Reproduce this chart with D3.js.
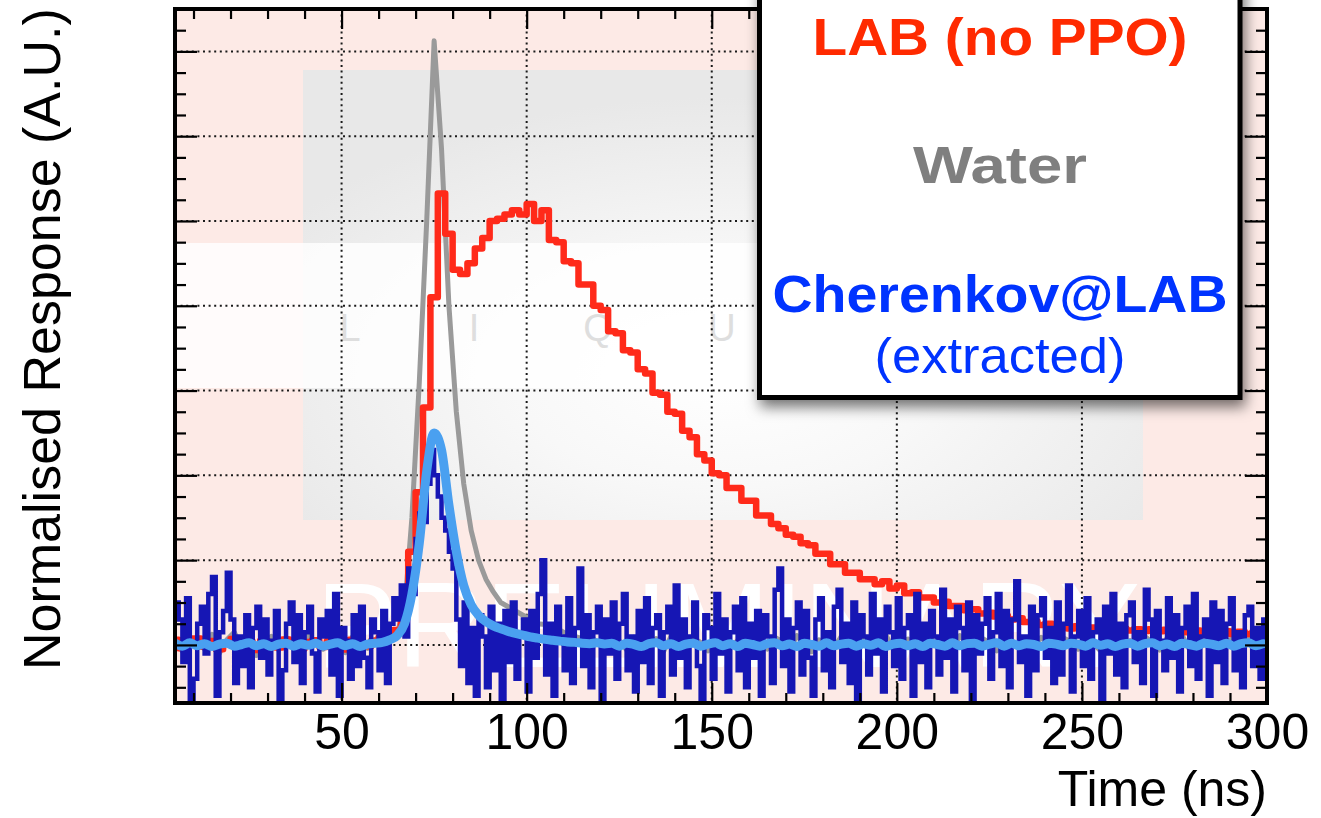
<!DOCTYPE html>
<html>
<head>
<meta charset="utf-8">
<script src="https://cdn.jsdelivr.net/npm/d3@7"></script>
<style>
  html, body { margin: 0; padding: 0; background: #fff; }
  svg { display: block; }
  text { font-family: "Liberation Sans", Arial, sans-serif; }
</style>
</head>
<body>
<svg id="chart" width="1321" height="818"></svg>
<script>
// histogram binning (ns)
const binStart = 4, binWidth = 2;       // LAB, water, smoothed Cherenkov
const rawBinStart = 5, rawBinWidth = 1; // raw Cherenkov

// LAB (no PPO) response, 2 ns bins starting at 4 ns
const labNoPPO = [
  0.012, -0.008, 0.005, 0.015, -0.004, 0.009, -0.010, 0.006, 0.014, -0.003,
  0.008, -0.012, 0.010, 0.003, -0.006, 0.013, 0.001, -0.009, 0.007, 0.011,
  -0.005, 0.009, 0.004, -0.011, 0.012, 0.006, -0.003, 0.010, 0.018, 0.022,
  0.035, 0.09, 0.22, 0.36, 0.56, 0.82, 1.065, 0.97, 0.885, 0.875,
  0.90, 0.935, 0.96, 1.0, 1.005, 1.015, 1.025, 1.015, 1.04, 1.0,
  1.025, 0.955, 0.95, 0.905, 0.90, 0.85, 0.85, 0.80, 0.79, 0.74,
  0.735, 0.695, 0.69, 0.65, 0.64, 0.595, 0.59, 0.55, 0.545, 0.505,
  0.49, 0.45, 0.435, 0.405, 0.40, 0.37, 0.37, 0.34, 0.34, 0.305,
  0.305, 0.285, 0.275, 0.26, 0.255, 0.24, 0.235, 0.215, 0.215, 0.19,
  0.19, 0.17, 0.17, 0.155, 0.155, 0.143, 0.15, 0.133, 0.14, 0.122,
  0.124, 0.112, 0.112, 0.10, 0.102, 0.092, 0.092, 0.082, 0.084, 0.074,
  0.076, 0.067, 0.069, 0.060, 0.063, 0.054, 0.056, 0.047, 0.050, 0.043,
  0.046, 0.039, 0.044, 0.037, 0.041, 0.035, 0.040, 0.034, 0.039, 0.034,
  0.037, 0.033, 0.037, 0.032, 0.036, 0.031, 0.035, 0.030, 0.034, 0.029,
  0.033, 0.027, 0.032, 0.026, 0.031, 0.026, 0.030, 0.025
];

// Water response
const water = [
  0.010, -0.015, 0.020, 0.005, -0.010, 0.025, -0.020, 0.012, 0.030, -0.005,
  0.015, -0.025, 0.010, 0.020, -0.012, 0.018, 0.004, -0.020, 0.022, 0.008,
  -0.010, 0.016, 0.010, -0.018, 0.020, 0.006, -0.008, 0.012, 0.020, 0.018,
  0.030, 0.08, 0.30, 0.62, 1.00, 1.425, 1.17, 0.80, 0.55, 0.38,
  0.27, 0.20, 0.155, 0.125, 0.10, 0.09, 0.08, 0.07, 0.06, 0.05,
  0.048, 0.04, 0.035, 0.025, 0.02, 0.015, 0.02, 0.008, 0.012, -0.005,
  0.010, -0.012, 0.018, 0.004, -0.008, 0.015, -0.015, 0.020, 0.002, -0.010,
  0.016, 0.006, -0.014, 0.012, 0.024, -0.006, 0.010, -0.018, 0.014, 0.004,
  -0.010, 0.018, 0.008, -0.012, 0.022, 0.002, -0.016, 0.012, 0.006, -0.008,
  0.020, -0.004, 0.012, 0.016, -0.014, 0.008, 0.024, -0.010, 0.004, 0.014,
  -0.012, 0.010, 0.018, -0.006, 0.012, -0.016, 0.022, 0.004, -0.010, 0.016,
  0.006, -0.014, 0.020, 0.010, -0.008, 0.014, -0.004, 0.018, 0.002, -0.012,
  0.016, 0.008, -0.010, 0.022, 0.004, -0.014, 0.012, 0.018, -0.006, 0.010,
  -0.008, 0.020, 0.006, -0.012, 0.016, 0.002, 0.024, -0.010, 0.012, 0.006,
  0.018, -0.006, 0.010, 0.014, -0.012, 0.020, 0.004, -0.008
];

// Cherenkov@LAB extracted, raw histogram, 1 ns bins from 5 ns
const cherenkovRaw = [
  0.10, 0.06, -0.04, 0.11, -0.13, -0.08, 0.05, 0.09, -0.02, 0.12,
  0.16, -0.12, 0.03, 0.08, 0.17, 0.06, -0.09, 0.02, -0.05, 0.07,
  -0.10, 0.04, 0.09, -0.03, 0.06, -0.07, 0.01, 0.08, -0.13, -0.06,
  0.05, 0.10, -0.04, 0.07, -0.09, 0.03, 0.09, -0.02, -0.11, 0.06,
  0.02, 0.08, -0.07, 0.12, -0.12, 0.04, 0.01, -0.08, 0.07, -0.05,
  0.09, -0.03, -0.10, 0.06, 0.03, -0.06, 0.08, -0.09, 0.05, 0.11,
  0.06, 0.14, 0.02, 0.18, 0.12, 0.25, 0.31, 0.29, 0.38, 0.46,
  0.40, 0.35, 0.30, 0.27, 0.22, 0.18, 0.06, -0.05, 0.10, -0.09,
  0.04, -0.12, 0.07, 0.02, -0.10, 0.09, -0.06, 0.05, -0.13, 0.08,
  -0.04, 0.10, -0.08, 0.03, 0.06, -0.11, 0.08, -0.03, 0.12, 0.20,
  -0.07, 0.05, -0.12, 0.09, 0.02, -0.06, 0.11, -0.09, 0.04, 0.18,
  -0.05, 0.07, -0.10, 0.03, 0.09, -0.13, 0.06, -0.02, 0.10, -0.08,
  0.05, 0.12, -0.06, 0.02, -0.11, 0.08, -0.04, 0.11, -0.09, 0.04,
  0.07, -0.12, 0.03, 0.09, -0.07, 0.14, -0.03, 0.06, -0.10, 0.02,
  0.10, -0.05, -0.13, 0.07, 0.04, -0.08, 0.12, -0.02, 0.06, -0.11,
  0.03, 0.09, -0.06, 0.11, -0.10, 0.05, -0.03, 0.08, -0.12, 0.07,
  0.02, -0.09, 0.13, 0.18, -0.05, 0.06, -0.11, 0.04, 0.10, -0.07,
  0.08, -0.03, -0.12, 0.06, 0.11, -0.06, 0.03, -0.10, 0.09, 0.13,
  -0.04, 0.05, -0.09, 0.10, -0.13, 0.07, 0.02, -0.07, 0.12, -0.02,
  0.06, -0.11, 0.09, 0.03, -0.05, 0.11, -0.08, 0.04, 0.07, -0.12,
  0.12, -0.04, 0.05, -0.10, 0.08, 0.02, -0.07, 0.13, -0.03, 0.06,
  -0.11, 0.09, 0.04, -0.06, 0.10, -0.13, 0.07, -0.02, 0.05, 0.11,
  -0.08, 0.03, 0.12, -0.05, 0.08, -0.10, 0.06, 0.15, -0.04, 0.02,
  -0.12, 0.09, -0.06, 0.07, 0.11, -0.03, 0.04, -0.09, 0.10, -0.07,
  0.05, 0.14, -0.11, 0.02, 0.08, -0.05, 0.11, -0.08, 0.03, 0.06,
  -0.13, 0.09, -0.02, 0.12, -0.07, 0.05, -0.10, 0.07, 0.10, -0.04,
  0.03, -0.09, 0.13, 0.06, -0.12, 0.08, 0.01, -0.06, 0.11, -0.03,
  0.07, -0.11, 0.04, 0.09, -0.05, 0.12, -0.08, 0.02, 0.06, -0.12,
  0.10, -0.04, 0.08, -0.09, 0.05, 0.11, -0.06, 0.03, -0.10, 0.07,
  0.09, -0.05, 0.04, -0.08, 0.06
];

// Cherenkov@LAB extracted, smoothed
const cherenkovFit = [
  0.004, -0.003, 0.005, -0.002, 0.003, -0.004, 0.002, 0.004, -0.003, 0.001,
  0.005, -0.002, 0.003, -0.004, 0.002, 0.004, -0.003, 0.003, -0.001, 0.004,
  -0.003, 0.002, 0.005, -0.002, 0.003, -0.004, 0.002, 0.004, 0.006, 0.012,
  0.022, 0.05, 0.12, 0.24, 0.41, 0.50, 0.46, 0.33, 0.22, 0.14,
  0.095, 0.07, 0.055, 0.045, 0.038, 0.032, 0.027, 0.023, 0.019, 0.016,
  0.013, 0.011, 0.009, 0.007, 0.006, 0.004, 0.003, 0.005, 0.002, 0.004,
  -0.003, 0.004, 0.001, -0.004, 0.003, 0.005, -0.002, 0.003, -0.004, 0.002,
  0.004, -0.003, 0.002, 0.005, -0.002, 0.003, -0.004, 0.004, 0.001, -0.003,
  0.003, 0.005, -0.002, 0.002, -0.004, 0.004, 0.001, -0.003, 0.005, -0.002,
  0.002, 0.004, -0.003, 0.003, -0.001, 0.005, -0.004, 0.002, 0.004, -0.002,
  0.003, -0.004, 0.004, 0.001, -0.003, 0.005, -0.002, 0.003, 0.004, -0.003,
  0.002, 0.005, -0.003, 0.004, -0.002, 0.003, 0.001, -0.004, 0.004, 0.002,
  -0.002, 0.004, 0.002, -0.003, 0.005, -0.001, 0.003, -0.004, 0.002, 0.004,
  -0.003, 0.003, 0.005, -0.002, 0.002, -0.004, 0.004, 0.001, -0.003, 0.004,
  0.002, -0.002, 0.004, -0.003, 0.003, 0.005, -0.002, 0.003
];

const xTicks = [50, 100, 150, 200, 250, 300];
const yGrid = [0, 0.2, 0.4, 0.6, 0.8, 1.0, 1.2, 1.4];
const legendLabels = ["LAB (no PPO)", "Water", "Cherenkov@LAB", "(extracted)"];
const watermarkLetters = ["L", "I", "Q", "U"];

const svg = d3.select("#chart");
const plot = {left: 175, right: 1267, top: 9, bottom: 703};

const x = d3.scaleLinear().domain([5, 300]).range([plot.left, plot.right]);
const y = d3.scaleLinear().domain([-0.137, 1.5]).range([plot.bottom, plot.top]);

const defs = svg.append("defs");
defs.append("clipPath").attr("id", "plotClip")
  .append("rect")
  .attr("x", plot.left).attr("y", plot.top)
  .attr("width", plot.right - plot.left).attr("height", plot.bottom - plot.top);

const grad = defs.append("radialGradient").attr("id", "wmGrad")
  .attr("cx", 0.5).attr("cy", 0.68).attr("r", 0.62);
grad.append("stop").attr("offset", "0%").attr("stop-color", "#ffffff");
grad.append("stop").attr("offset", "40%").attr("stop-color", "#f8f8f8");
grad.append("stop").attr("offset", "100%").attr("stop-color", "#e8e8e8");

const shadow = defs.append("filter").attr("id", "shadow")
  .attr("x", "-10%").attr("y", "-10%").attr("width", "125%").attr("height", "130%");
shadow.append("feDropShadow")
  .attr("dx", 3).attr("dy", 7).attr("stdDeviation", 7)
  .attr("flood-color", "#000").attr("flood-opacity", 0.55);

// background + preliminary watermark
const bg = svg.append("g").attr("clip-path", "url(#plotClip)");
bg.append("rect")
  .attr("x", plot.left).attr("y", plot.top)
  .attr("width", plot.right - plot.left).attr("height", plot.bottom - plot.top)
  .attr("fill", "#fdeae6");
bg.append("rect")
  .attr("x", 303).attr("y", 70).attr("width", 840).attr("height", 450)
  .attr("fill", "url(#wmGrad)");
bg.append("rect")
  .attr("x", plot.left).attr("y", 243).attr("width", 1143 - plot.left).attr("height", 145)
  .attr("fill", "#ffffff").attr("opacity", 0.82);
bg.selectAll("text.wm")
  .data(watermarkLetters)
  .join("text")
  .attr("class", "wm")
  .attr("x", (d, i) => 350 + i * 124)
  .attr("y", 341)
  .attr("text-anchor", "middle")
  .attr("font-size", 38)
  .attr("fill", "#dedede")
  .text(d => d);
bg.append("text")
  .attr("x", 316).attr("y", 667)
  .attr("font-size", 120)
  .attr("textLength", 824).attr("lengthAdjust", "spacingAndGlyphs")
  .attr("fill", "#ffffff")
  .text("PRELIMINARY");

// grid
const grid = svg.append("g").attr("stroke", "#1a1a1a").attr("stroke-width", 2)
  .attr("stroke-dasharray", "2 3.6");
grid.selectAll("line.gx")
  .data(xTicks.filter(v => v < 300))
  .join("line")
  .attr("class", "gx")
  .attr("x1", d => x(d)).attr("x2", d => x(d))
  .attr("y1", plot.top).attr("y2", plot.bottom);
grid.selectAll("line.gy")
  .data(yGrid)
  .join("line")
  .attr("class", "gy")
  .attr("x1", plot.left).attr("x2", plot.right)
  .attr("y1", d => y(d)).attr("y2", d => y(d));

// histograms
function stepPoints(vals, start, width) {
  const pts = vals.map((v, i) => [start + i * width, v]);
  pts.push([start + vals.length * width, vals[vals.length - 1]]);
  return pts;
}
const stepLine = d3.line()
  .x(d => x(d[0])).y(d => y(d[1]))
  .curve(d3.curveStepAfter);
const centreLine = d3.line()
  .x((d, i) => x(binStart + (i + 0.5) * binWidth)).y(d => y(d));
const smoothLine = d3.line()
  .x((d, i) => x(binStart + (i + 0.5) * binWidth)).y(d => y(d))
  .curve(d3.curveMonotoneX);

const curves = svg.append("g").attr("clip-path", "url(#plotClip)")
  .attr("fill", "none").attr("stroke-linejoin", "round");
curves.append("path")
  .attr("d", centreLine(water))
  .attr("stroke", "#9a9a9a").attr("stroke-width", 5);
curves.append("path")
  .attr("d", stepLine(stepPoints(labNoPPO, binStart, binWidth)))
  .attr("stroke", "#ff2a1a").attr("stroke-width", 6.5);
curves.append("path")
  .attr("d", stepLine(stepPoints(cherenkovRaw, rawBinStart, rawBinWidth)))
  .attr("stroke", "#1616b4").attr("stroke-width", 4.5)
  .attr("stroke-linejoin", "miter");
curves.append("path")
  .attr("d", smoothLine(cherenkovFit))
  .attr("stroke", "#4aa0f0").attr("stroke-width", 9)
  .attr("stroke-linecap", "round");

// axes: ROOT-style ticks on all four sides
const xMinor = d3.range(10, 301, 10).filter(v => v % 50 !== 0);
const yMinor = d3.range(-0.1, 1.501, 0.05).filter(v => Math.abs(v * 5 - Math.round(v * 5)) > 1e-6);
const yMajor = yGrid;

function styleAxis(g) {
  g.select(".domain").remove();
  g.selectAll(".tick line").attr("stroke", "#000").attr("stroke-width", 2.2);
}

const xb = svg.append("g").attr("transform", `translate(0,${plot.bottom})`)
  .call(d3.axisBottom(x).tickValues(xTicks).tickSize(-20).tickPadding(10));
styleAxis(xb);
xb.selectAll(".tick text")
  .attr("font-size", 50).attr("fill", "#000")
  .attr("font-family", "Liberation Sans, Arial, sans-serif");
svg.append("g").attr("transform", `translate(0,${plot.bottom})`)
  .call(d3.axisBottom(x).tickValues(xMinor).tickSize(-10).tickFormat(""))
  .call(styleAxis);
svg.append("g").attr("transform", `translate(0,${plot.top})`)
  .call(d3.axisTop(x).tickValues(xTicks).tickSize(-20).tickFormat(""))
  .call(styleAxis);
svg.append("g").attr("transform", `translate(0,${plot.top})`)
  .call(d3.axisTop(x).tickValues(xMinor).tickSize(-10).tickFormat(""))
  .call(styleAxis);
svg.append("g").attr("transform", `translate(${plot.left},0)`)
  .call(d3.axisLeft(y).tickValues(yMajor).tickSize(-22).tickFormat(""))
  .call(styleAxis);
svg.append("g").attr("transform", `translate(${plot.left},0)`)
  .call(d3.axisLeft(y).tickValues(yMinor).tickSize(-11).tickFormat(""))
  .call(styleAxis);
svg.append("g").attr("transform", `translate(${plot.right},0)`)
  .call(d3.axisRight(y).tickValues(yMajor).tickSize(-22).tickFormat(""))
  .call(styleAxis);
svg.append("g").attr("transform", `translate(${plot.right},0)`)
  .call(d3.axisRight(y).tickValues(yMinor).tickSize(-11).tickFormat(""))
  .call(styleAxis);

// frame
svg.append("rect")
  .attr("x", plot.left).attr("y", plot.top)
  .attr("width", plot.right - plot.left).attr("height", plot.bottom - plot.top)
  .attr("fill", "none").attr("stroke", "#000").attr("stroke-width", 4);

// axis titles
svg.append("text")
  .attr("x", plot.right).attr("y", 806)
  .attr("text-anchor", "end")
  .attr("font-size", 50)
  .text("Time (ns)");
svg.append("text")
  .attr("transform", "translate(60,670) rotate(-90)")
  .attr("font-size", 52)
  .text("Normalised Response (A.U.)");

// legend box
const leg = svg.append("g");
leg.append("rect")
  .attr("x", 759.5).attr("y", -20).attr("width", 480.5).attr("height", 417.5)
  .attr("fill", "#fff").attr("stroke", "#000").attr("stroke-width", 5)
  .attr("filter", "url(#shadow)");
const legendStyle = [
  {y: 55, color: "#ff2a00", weight: "bold", family: "Lato, 'Open Sans', sans-serif", size: 52, len: 375},
  {y: 183, color: "#7f7f7f", weight: "bold", family: "Lato, 'Open Sans', sans-serif", size: 52, len: 174},
  {y: 312, color: "#0033ff", weight: "bold", family: "Lato, 'Open Sans', sans-serif", size: 52, len: 455},
  {y: 373, color: "#0033ff", weight: "normal", family: "'Liberation Sans', Arial, sans-serif", size: 50, len: 251}
];
leg.selectAll("text")
  .data(legendLabels)
  .join("text")
  .attr("x", 1000)
  .attr("y", (d, i) => legendStyle[i].y)
  .attr("text-anchor", "middle")
  .attr("fill", (d, i) => legendStyle[i].color)
  .attr("font-weight", (d, i) => legendStyle[i].weight)
  .attr("font-family", (d, i) => legendStyle[i].family)
  .attr("font-size", (d, i) => legendStyle[i].size)
  .attr("textLength", (d, i) => legendStyle[i].len)
  .attr("lengthAdjust", "spacingAndGlyphs")
  .text(d => d);
</script>
</body>
</html>
